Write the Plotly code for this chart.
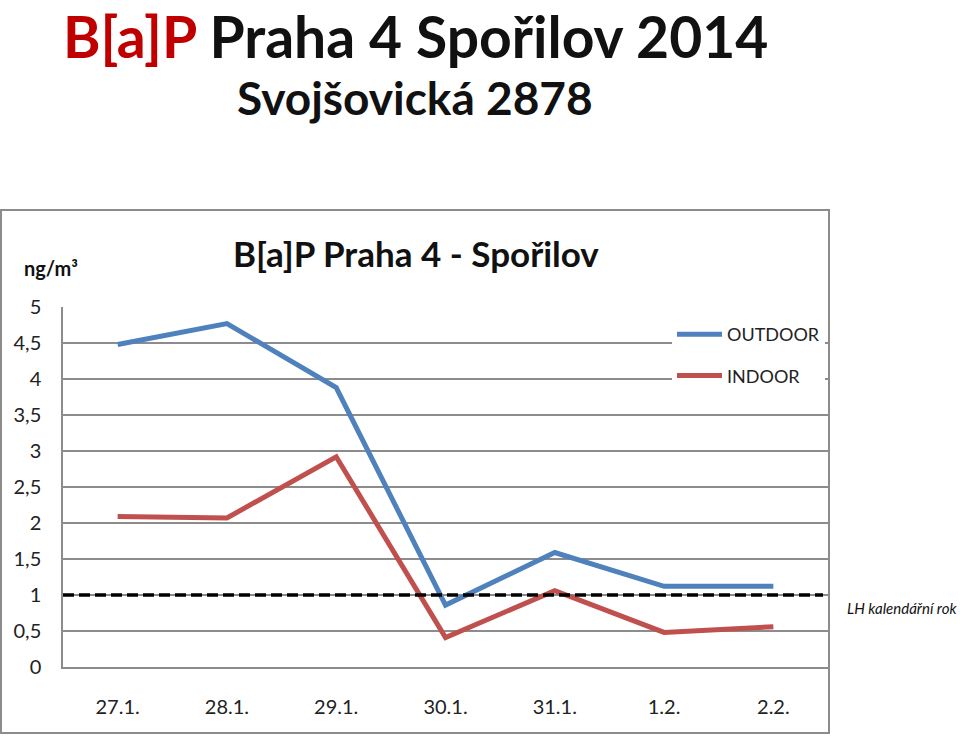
import plotly.graph_objects as go

categories = ["27.1.", "28.1.", "29.1.", "30.1.", "31.1.", "1.2.", "2.2."]
outdoor = [4.48, 4.77, 3.88, 0.86, 1.59, 1.12, 1.12]
indoor = [2.09, 2.07, 2.92, 0.41, 1.06, 0.48, 0.56]
limit_value = 1.0
y_ticks = [0, 0.5, 1, 1.5, 2, 2.5, 3, 3.5, 4, 4.5, 5]
y_tick_labels = ["0", "0,5", "1", "1,5", "2", "2,5", "3", "3,5", "4", "4,5", "5"]

W, H = 960, 737
L, R, T, B = 63, 828, 307, 667
FONT = "Lato"


def px(x):
    return (x - L) / (R - L)


def py(y):
    return (B - y) / (B - T)


fig = go.Figure()
fig.add_trace(go.Scatter(x=categories, y=outdoor, mode="lines", name="OUTDOOR",
                         line=dict(color="#4F81BD", width=5), legendgroup="a"))
fig.add_trace(go.Scatter(x=categories, y=indoor, mode="lines", name="INDOOR",
                         line=dict(color="#C0504D", width=5), legendgroup="b"))

shapes = [
    dict(type="line", xref="paper", yref="y", x0=0, x1=px(823), y0=limit_value, y1=limit_value,
         line=dict(color="black", width=3.5, dash="11px,5px"), layer="above"),
    dict(type="rect", xref="paper", yref="paper", x0=px(1), x1=px(829), y0=py(733), y1=py(210),
         line=dict(color="#8c8c8c", width=2), layer="below"),
]

annotations = [
    dict(text="<b><span style='color:#C00000'>B[a]P</span> Praha 4 Spořilov 2014</b>",
         x=px(415), y=py(0), xref="paper", yref="paper", showarrow=False,
         font=dict(family=FONT, size=57, color="#111111"), xanchor="center", yanchor="top"),
    dict(text="<b>Svojšovická 2878</b>", x=px(415), y=py(97), xref="paper", yref="paper",
         showarrow=False, font=dict(family=FONT, size=46, color="#111111"),
         xanchor="center", yanchor="middle"),
    dict(text="<b>B[a]P Praha 4 - Spořilov</b>", x=px(416), y=py(253), xref="paper", yref="paper",
         showarrow=False, font=dict(family=FONT, size=35, color="#111111"),
         xanchor="center", yanchor="middle"),
    dict(text="<b>ng/m³</b>", x=px(51), y=py(268), xref="paper", yref="paper",
         showarrow=False, font=dict(family=FONT, size=20, color="#111111"),
         xanchor="center", yanchor="middle"),
    dict(text="<i>LH kalendářní rok</i>", x=px(845), y=py(608), xref="paper", yref="paper",
         showarrow=False, font=dict(family=FONT, size=15, color="#111111"),
         xanchor="left", yanchor="middle"),
]

fig.update_layout(
    width=W, height=H,
    margin=dict(l=L, r=W - R, t=T, b=H - B, pad=0),
    paper_bgcolor="white", plot_bgcolor="white",
    font=dict(family=FONT, size=20, color="#222222"),
    showlegend=True,
    legend=dict(x=px(672), y=py(316), xanchor="left", yanchor="top",
                bgcolor="white", font=dict(family=FONT, size=18, color="#222222"),
                tracegroupgap=15, traceorder="grouped", itemwidth=45),
    shapes=shapes,
    annotations=annotations,
    xaxis=dict(type="category", range=[-0.5, 6.5], showgrid=False, showline=True,
               linecolor="#8c8c8c", linewidth=1.5, ticks="", tickfont=dict(size=20),
               ticklabelstandoff=21, fixedrange=True),
    yaxis=dict(range=[0, 5], tickvals=y_ticks, ticktext=y_tick_labels, showgrid=True,
               gridcolor="#8c8c8c", gridwidth=1.5, showline=True, linecolor="#8c8c8c",
               linewidth=1.5, ticks="", tickfont=dict(size=20), ticklabelstandoff=16,
               zeroline=False, fixedrange=True),
)

fig.write_html("out.html")
